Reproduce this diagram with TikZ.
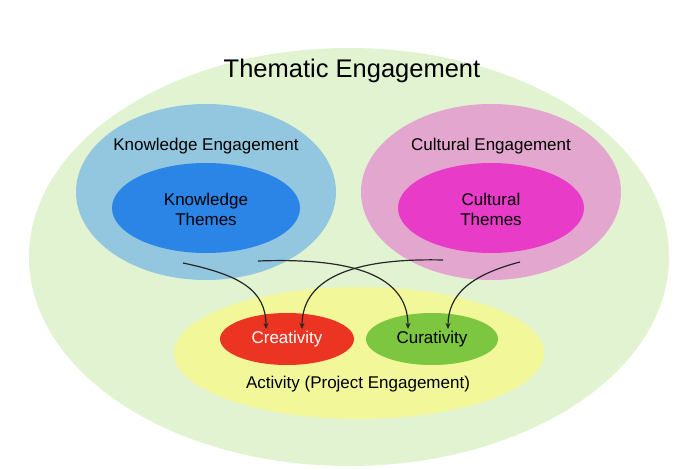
\documentclass[tikz,border=0pt]{standalone}
\usepackage{fontspec}
\setmainfont{Liberation Sans}
\usetikzlibrary{arrows.meta}
\definecolor{bgG}{HTML}{E2F3D2}
\definecolor{kB}{HTML}{93C6DF}
\definecolor{kI}{HTML}{2A85E6}
\definecolor{cP}{HTML}{E3A6CF}
\definecolor{cI}{HTML}{E83BC8}
\definecolor{aY}{HTML}{F2F79A}
\definecolor{crR}{HTML}{EC3422}
\definecolor{cuG}{HTML}{7DC63F}
\begin{document}
\begin{tikzpicture}[x=1pt,y=-1pt,
  lbl/.style={font=\fontsize{17}{20}\selectfont,align=center},
  arr/.style={-{Stealth[length=6pt,width=5pt]},line width=1.2pt,black!85}]
\useasboundingbox (0,0) rectangle (700,470);
\fill[bgG] (349,257) ellipse [x radius=320,y radius=209];
\node[font=\fontsize{25.5}{28}\selectfont] (title) at (352,71) {Thematic Engagement};
\fill[kB] (206,192) ellipse [x radius=130,y radius=88];
\fill[kI] (206,208) ellipse [x radius=94,y radius=45];
\node[lbl] (ke) at (206,146) {Knowledge Engagement};
\node[lbl] (kt) at (206,209) {Knowledge\\Themes};
\fill[cP] (491,192) ellipse [x radius=130,y radius=88];
\fill[cI] (491,208) ellipse [x radius=93,y radius=45];
\node[lbl] (ce) at (491,146) {Cultural Engagement};
\node[lbl] (ct) at (491,209) {Cultural\\Themes};
\fill[aY] (359,353) ellipse [x radius=185,y radius=66];
\fill[crR] (287,339) ellipse [x radius=67,y radius=26];
\fill[cuG] (432,339) ellipse [x radius=66,y radius=26];
\node[lbl,text=white] (cr) at (287,339) {Creativity};
\node[lbl] (cu) at (432,339) {Curativity};
\node[lbl] (act) at (358,384) {Activity (Project Engagement)};
\coordinate (k1) at (183,263); \coordinate (k2) at (258,261);
\coordinate (c1) at (443,260); \coordinate (c2) at (520,262);
\coordinate (cr1) at (266,329); \coordinate (cr2) at (302,329);
\coordinate (cu1) at (408,329); \coordinate (cu2) at (448,329);
\draw[arr] (k1) .. controls (240,275) and (266,290) .. (cr1);
\draw[arr] (k2) .. controls (340,258) and (408,270) .. (cu1);
\draw[arr] (c1) .. controls (360,258) and (302,275) .. (cr2);
\draw[arr] (c2) .. controls (470,275) and (448,295) .. (cu2);
\end{tikzpicture}
\end{document}
